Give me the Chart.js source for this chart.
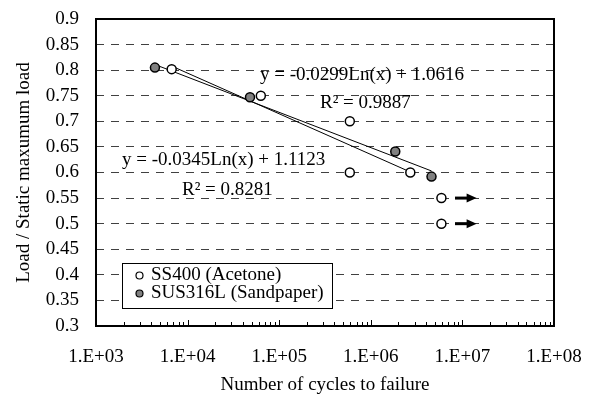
<!DOCTYPE html>
<html>
<head>
<meta charset="utf-8">
<script src="https://cdn.jsdelivr.net/npm/chart.js@4/dist/chart.umd.min.js"></script>
<style>
  html, body { margin: 0; padding: 0; background: #fff; }
  canvas { display: block; }
</style>
</head>
<body>
<canvas id="chart" width="594" height="397"></canvas>
<script>
// Datos
const ssCycles = [6.7e3, 6.3e4, 5.9e5, 5.9e5, 2.7e6, 5.9e6, 5.9e6];
const ssLoad = [0.802, 0.750, 0.700, 0.600, 0.600, 0.550, 0.500];
const susCycles = [4.4e3, 4.8e4, 1.85e6, 4.6e6];
const susLoad = [0.805, 0.747, 0.641, 0.592];

// extremos de las líneas de tendencia
const ssTrendCycles = [6.7e3, 2.7e6];
const ssTrendLoad = [0.808, 0.601];
const susTrendCycles = [4.4e3, 4.6e6];
const susTrendLoad = [0.811, 0.603];

// flechas de run-out
const runoutLoad = [0.55, 0.50];
const runoutFrom = [8.3e6, 8.3e6];
const runoutTo = [1.43e7, 1.43e7];

const xTicks = [1e3, 1e4, 1e5, 1e6, 1e7, 1e8];
const xTickLabels = ['1.E+03', '1.E+04', '1.E+05', '1.E+06', '1.E+07', '1.E+08'];
const yTicks = [0.3, 0.35, 0.4, 0.45, 0.5, 0.55, 0.6, 0.65, 0.7, 0.75, 0.8, 0.85, 0.9];
const yTickLabels = ['0.3', '0.35', '0.4', '0.45', '0.5', '0.55', '0.6', '0.65', '0.7', '0.75', '0.8', '0.85', '0.9'];

const notes = [
  { text: 'y = -0.0299Ln(x) + 1.0616', x: 260, y: 75 },
  { text: 'R² = 0.9887', x: 320, y: 103 },
  { text: 'y = -0.0345Ln(x) + 1.1123', x: 122, y: 160 },
  { text: 'R² = 0.8281', x: 182, y: 190 },
];

const FONT = "'Liberation Serif', 'Times New Roman', serif";
Chart.defaults.font.family = FONT;
Chart.defaults.font.size = 19;
Chart.defaults.color = '#000';

const toPoints = (xs, ys) => xs.map((x, i) => ({ x: x, y: ys[i] }));

// marco, marcas menores, flechas y ecuaciones
const extras = {
  id: 'extras',
  afterDatasetsDraw(chart) {
    const ctx = chart.ctx;
    const a = chart.chartArea;
    const xs = chart.scales.x, ys = chart.scales.y;
    ctx.save();
    ctx.strokeStyle = '#000';
    ctx.lineWidth = 1;
    for (let i = 0; i < xTicks.length - 1; i++) {
      for (let m = 1; m < 10; m++) {
        const px = Math.round(xs.getPixelForValue(xTicks[i] * m)) + 0.5;
        ctx.beginPath();
        ctx.moveTo(px, a.bottom);
        ctx.lineTo(px, a.bottom - (m === 1 ? 6 : 4));
        ctx.stroke();
      }
    }
    ctx.lineWidth = 2;
    ctx.strokeRect(a.left, a.top, a.right - a.left, a.bottom - a.top);

    // flechas
    ctx.fillStyle = '#000';
    runoutLoad.forEach((v, i) => {
      const py = ys.getPixelForValue(v);
      const x0 = xs.getPixelForValue(runoutFrom[i]);
      const x1 = xs.getPixelForValue(runoutTo[i]);
      ctx.lineWidth = 3;
      ctx.beginPath();
      ctx.moveTo(x0, py);
      ctx.lineTo(x1 - 8, py);
      ctx.stroke();
      ctx.beginPath();
      ctx.moveTo(x1, py);
      ctx.lineTo(x1 - 10, py - 4.5);
      ctx.lineTo(x1 - 10, py + 4.5);
      ctx.closePath();
      ctx.fill();
    });

    ctx.font = '19px ' + FONT;
    ctx.textAlign = 'left';
    ctx.textBaseline = 'middle';
    notes.forEach(n => ctx.fillText(n.text, n.x, n.y));
    ctx.restore();
  },
  afterDraw(chart) {
    // leyenda
    const ctx = chart.ctx;
    const items = chart.data.datasets.filter(d => d.inLegend);
    ctx.save();
    ctx.fillStyle = '#fff';
    ctx.fillRect(122.5, 263.5, 210, 45);
    ctx.strokeStyle = '#000';
    ctx.lineWidth = 1;
    ctx.strokeRect(122.5, 263.5, 210, 45);
    ctx.font = '19px ' + FONT;
    ctx.textBaseline = 'middle';
    items.forEach((d, i) => {
      const y = 275.5 + i * 18;
      ctx.beginPath();
      ctx.arc(139.5, y, 3.5, 0, Math.PI * 2);
      ctx.fillStyle = d.backgroundColor;
      ctx.fill();
      ctx.lineWidth = 1.2;
      ctx.stroke();
      ctx.fillStyle = '#000';
      ctx.fillText(d.label, 151, y);
    });
    ctx.restore();
  }
};

new Chart(document.getElementById('chart'), {
  type: 'scatter',
  data: {
    datasets: [
      {
        label: 'SS400 trend',
        data: toPoints(ssTrendCycles, ssTrendLoad),
        showLine: true, borderColor: '#000', borderWidth: 1, pointRadius: 0, order: 3,
      },
      {
        label: 'SUS316L trend',
        data: toPoints(susTrendCycles, susTrendLoad),
        showLine: true, borderColor: '#000', borderWidth: 1, pointRadius: 0, order: 3,
      },
      {
        label: 'SS400 (Acetone)',
        data: toPoints(ssCycles, ssLoad),
        backgroundColor: '#fff', borderColor: '#000', borderWidth: 1.5,
        pointRadius: 4.5, order: 1, inLegend: true,
      },
      {
        label: 'SUS316L (Sandpaper)',
        data: toPoints(susCycles, susLoad),
        backgroundColor: '#808080', borderColor: '#000', borderWidth: 1.5,
        pointRadius: 4.5, order: 1, inLegend: true,
      },
    ],
  },
  options: {
    responsive: false,
    animation: false,
    layout: { padding: { top: 19, right: 40, left: 0, bottom: 0 } },
    plugins: {
      legend: { display: false },
      tooltip: { enabled: false },
    },
    scales: {
      x: {
        type: 'logarithmic',
        min: 1e3,
        max: 1e8,
        afterBuildTicks: s => { s.ticks = xTicks.map(v => ({ value: v })); },
        afterFit: s => { s.height = 71; s.paddingLeft = 0; s.paddingRight = 0; },
        ticks: {
          padding: 20,
          autoSkip: false,
          maxRotation: 0,
          callback: (v, i) => xTickLabels[i],
        },
        grid: { display: false, drawTicks: false },
        border: { display: false },
        title: {
          display: true,
          text: 'Number of cycles to failure',
          padding: { top: 0, bottom: 1 },
        },
      },
      y: {
        min: 0.3,
        max: 0.9,
        afterBuildTicks: s => { s.ticks = yTicks.map(v => ({ value: v })); },
        afterFit: s => { s.width = 96; s.paddingTop = 0; s.paddingBottom = 0; },
        ticks: {
          padding: 17,
          autoSkip: false,
          callback: (v, i) => yTickLabels[i],
        },
        grid: {
          drawTicks: false,
          lineWidth: 1,
          color: c => (c.tick && (c.tick.value === 0.3 || c.tick.value === 0.9)) ? 'rgba(0,0,0,0)' : '#404040',
        },
        border: { display: false, dash: [8, 7] },
        title: {
          display: true,
          text: 'Load / Static maxumum load',
          padding: { top: 13, bottom: 0 },
        },
      },
    },
  },
  plugins: [extras],
});
</script>
</body>
</html>
